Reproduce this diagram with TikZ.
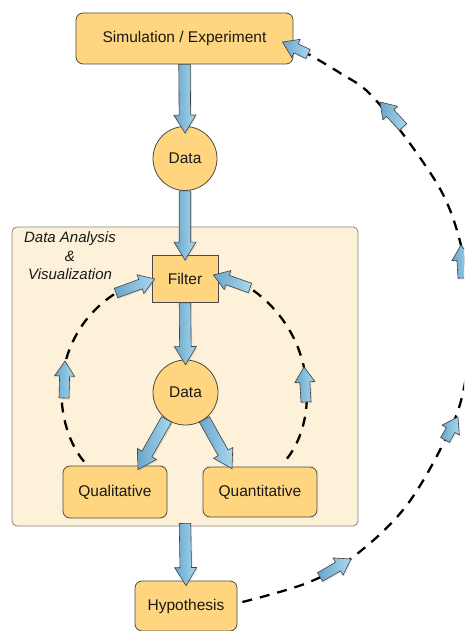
\documentclass[tikz,border=0pt]{standalone}
\usepackage{fontspec}
\setmainfont{Liberation Sans}
\usetikzlibrary{calc,shadows}
\definecolor{boxfill}{HTML}{FFD67F}
\definecolor{panelfill}{HTML}{FEF1DA}
\definecolor{panelline}{HTML}{8C8478}
\definecolor{boxline}{HTML}{4A4A4A}
\definecolor{arrdark}{HTML}{6AA6CA}
\definecolor{arrlight}{HTML}{A8D8EF}
\tikzset{
  lbl/.style={font=\fontsize{15.5}{18}\selectfont, text=black!90},
  box/.style={lbl, draw=boxline, fill=boxfill, line width=0.8pt, rounded corners=7pt, inner sep=0pt},
  sqbox/.style={lbl, draw=boxline, fill=boxfill, line width=0.8pt, inner sep=0pt},
  circ/.style={lbl, circle, draw=boxline, fill=boxfill, line width=0.8pt, inner sep=0pt},
  panel/.style={draw=panelline, fill=panelfill, line width=0.8pt, rounded corners=5pt},
  fatstyle/.style={draw=black!75, line width=0.6pt, left color=arrdark, right color=arrlight,
    drop shadow={opacity=0.18, shadow xshift=1.2pt, shadow yshift=-1.5pt}},
  dashcurve/.style={draw=black, line width=2.3pt, dash pattern=on 10pt off 8pt},
}
% #1 start, #2 end, #3 shaft half width, #4 head half width, #5 head length
\newcommand\fatarr[5]{%
  \path[fatstyle] let \p1=(#1), \p2=(#2), \n1={atan2(\y2-\y1,\x2-\x1)},
    \n2={veclen(\x2-\x1,\y2-\y1)} in
    [shift={(\p1)}, rotate={\n1}]
    (0pt,#3pt) -- ({\n2-#5pt},#3pt) -- ({\n2-#5pt},#4pt) -- ({\n2},0pt)
    -- ({\n2-#5pt},-#4pt) -- ({\n2-#5pt},-#3pt) -- (0pt,-#3pt) -- cycle;}
\newcommand\bigarr[2]{\fatarr{#1}{#2}{5.75}{11}{18}}
\newcommand\smallarr[2]{\fatarr{#1}{#2}{5}{10}{15}}
\begin{document}
\begin{tikzpicture}[x=1pt,y=-1pt]
\useasboundingbox (0,0) rectangle (464,631);
\clip (0,0) rectangle (464,631);
% panel
\node[panel, minimum width=346pt, minimum height=299pt] (panel) at (185,376.5) {};
\node[font=\itshape\fontsize{15}{18.5}\selectfont, align=center, text=black!90] (title) at (70,256)
  {Data Analysis\\\&\\Visualization};
% nodes
\node[box, minimum width=217pt, minimum height=51pt] (sim) at (184.5,38.5) {Simulation / Experiment};
\node[circ, minimum size=64pt] (data1) at (185,158.5) {Data};
\node[sqbox, minimum width=66pt, minimum height=47pt] (filter) at (185,279) {Filter};
\node[circ, minimum size=65pt] (data2) at (185.5,392.5) {Data};
\node[box, minimum width=104pt, minimum height=52pt] (qual) at (115,492) {Qualitative};
\node[box, minimum width=114pt, minimum height=50pt] (quant) at (260,492) {Quantitative};
\node[box, minimum width=102pt, minimum height=50pt] (hyp) at (186,606) {Hypothesis};
% helper coordinates
\coordinate (t1) at ([yshift=-7pt]data1.north);
\coordinate (t2) at ([yshift=-5pt]filter.north);
\coordinate (t3) at ([yshift=-5pt]data2.north);
\coordinate (t4) at ([xshift=23pt,yshift=-4pt]qual.north);
\coordinate (t5) at ([xshift=-28pt,yshift=-2pt]quant.north);
\coordinate (s6) at ([yshift=3pt]panel.south);
\coordinate (t6) at ([yshift=-5pt]hyp.north);
\coordinate (lstart) at ([xshift=-31pt,yshift=4pt]qual.north);
\coordinate (ltail) at (116,293);
\coordinate (ltip) at ([xshift=3pt]filter.west);
\coordinate (rstart) at ([xshift=27pt,yshift=8pt]quant.north);
\coordinate (rtail) at (250,288);
\coordinate (rtip) at ([xshift=-5pt,yshift=4pt]filter.east);
\coordinate (bstart) at ([xshift=5pt,yshift=4pt]hyp.east);
\coordinate (btail) at (308,54);
\coordinate (btip) at ([xshift=-11pt,yshift=-3.5pt]sim.east);
% dashed loops
\draw[dashcurve] (lstart) .. controls (50,420) and (50,335) .. (ltail);
\draw[dashcurve] (rstart) .. controls (318,420) and (318,335) .. (rtail);
\draw[dashcurve] plot[smooth, tension=0.6] coordinates {(bstart) (307,583) (353,557) (403,510)
  (440,450) (462,397) (470,330) (466,270) (450,210) (423,162) (373,97) (340,73) (btail)};
% fat arrows
\bigarr{sim.south}{t1}
\bigarr{data1.south}{t2}
\bigarr{filter.south}{t3}
\bigarr{data2.235}{t4}
\bigarr{data2.-55}{t5}
\bigarr{s6}{t6}
% small arrows along loops
\smallarr{64,398}{65,361}
\smallarr{ltail}{ltip}
\smallarr{306,402}{304,367}
\smallarr{rtail}{rtip}
\smallarr{320,577}{351,559}
\smallarr{445,440}{458,417}
\smallarr{463,278}{461,245}
\smallarr{403,127}{380,102}
\smallarr{btail}{btip}
\end{tikzpicture}
\end{document}
